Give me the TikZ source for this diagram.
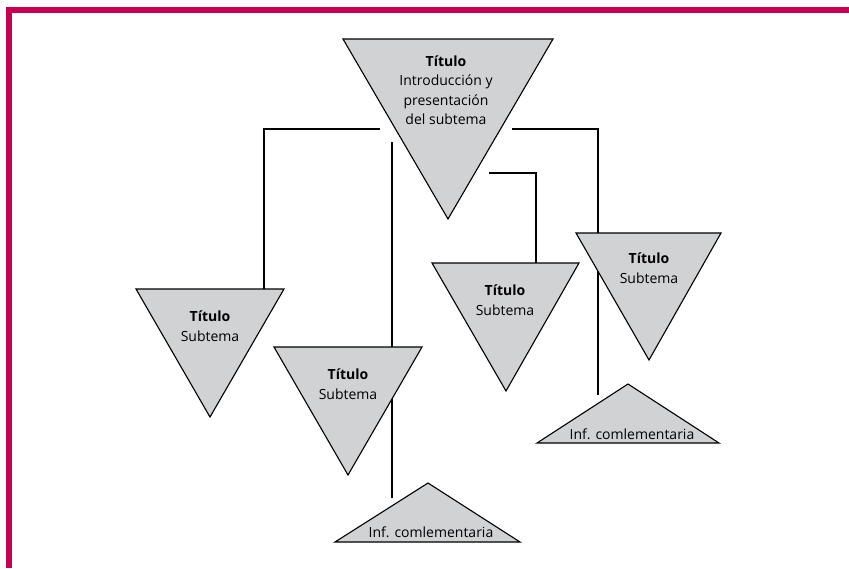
\documentclass[tikz,border=0pt]{standalone}
\usepackage{fontspec}
\setmainfont{Open Sans}
\usetikzlibrary{backgrounds}
\definecolor{framered}{RGB}{200,0,82}
\definecolor{trifill}{RGB}{209,210,212}
\begin{document}
\begin{tikzpicture}[x=1pt,y=-1pt,
  tri/.style={fill=trifill,draw=black,line width=1.1pt,line join=miter},
  link/.style={draw=black,line width=1.6pt},
  lbl/.style={align=center,font=\fontsize{14}{19.5}\selectfont,inner sep=0pt}]
\useasboundingbox (0,0) rectangle (849,568);
\fill[white] (0,0) rectangle (849,568);
% page frame
\draw[framered,line width=5.5pt] (8.85,568) -- (8.85,10) -- (849,10);

% corners of the downward triangles (left, right, apex)
\coordinate (mL) at (343,39);  \coordinate (mR) at (553,39);  \coordinate (mA) at (448,219);
\coordinate (aL) at (136,289); \coordinate (aR) at (284,289); \coordinate (aA) at (210,417);
\coordinate (bL) at (274,347); \coordinate (bR) at (422,347); \coordinate (bA) at (348,475);
\coordinate (cL) at (432,263); \coordinate (cR) at (579,263); \coordinate (cA) at (506,391);
\coordinate (dL) at (576,233); \coordinate (dR) at (721,233); \coordinate (dA) at (649,360);
% corners of the upward triangles
\coordinate (eL) at (335,542); \coordinate (eR) at (520,542); \coordinate (eA) at (428,483);
\coordinate (fL) at (537,443); \coordinate (fR) at (719,443); \coordinate (fA) at (628,384);

% connector end points
\coordinate (mW)   at (380,129);
\coordinate (mE)   at (512,129);
\coordinate (mS)   at (392,142);
\coordinate (mSE)  at (489,173);
\coordinate (aTop) at (264,289);
\coordinate (cTop) at (536,263);
\coordinate (dTop) at (598,233);
\coordinate (eEnd) at (392,498);
\coordinate (fEnd) at (598,395);

% connectors run behind the triangles
\draw[link] (mW) -| (aTop);
\draw[link] (mS) -- (eEnd);
\draw[link] (mSE) -| (cTop);
\draw[link] (mE) -| (dTop) -- (fEnd);

% triangles
\filldraw[tri] (mL) -- (mR) -- (mA) -- cycle;
\filldraw[tri] (aL) -- (aR) -- (aA) -- cycle;
\filldraw[tri] (bL) -- (bR) -- (bA) -- cycle;
\filldraw[tri] (cL) -- (cR) -- (cA) -- cycle;
\filldraw[tri] (dL) -- (dR) -- (dA) -- cycle;
\filldraw[tri] (eL) -- (eR) -- (eA) -- cycle;
\filldraw[tri] (fL) -- (fR) -- (fA) -- cycle;

% labels
\node[lbl] (mTxt) at (446,90) {\textbf{Título}\\Introducción y\\presentación\\del subtema};
\node[lbl] (aTxt) at (210,326) {\textbf{Título}\\Subtema};
\node[lbl] (bTxt) at (348,384) {\textbf{Título}\\Subtema};
\node[lbl] (cTxt) at (505,300) {\textbf{Título}\\Subtema};
\node[lbl] (dTxt) at (649,268) {\textbf{Título}\\Subtema};
\node[lbl] (eTxt) at (431,532) {Inf. comlementaria};
\node[lbl] (fTxt) at (632,434) {Inf. comlementaria};
\end{tikzpicture}
\end{document}
